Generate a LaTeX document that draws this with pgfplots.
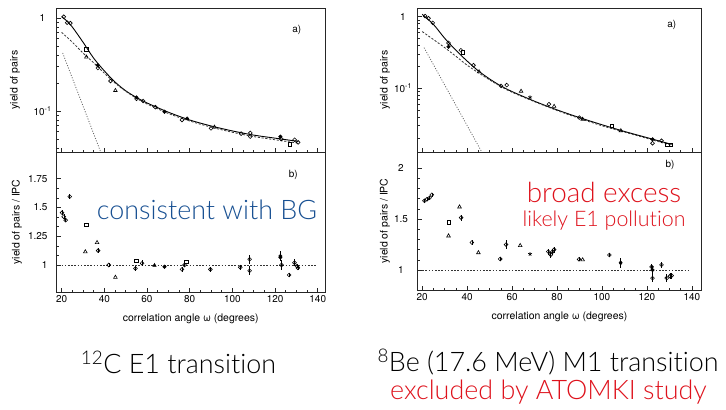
\documentclass[border=0pt]{standalone}
\usepackage{fontspec}
\setmainfont{TeX Gyre Heros}
\newfontfamily\thinfont{Lato}[UprightFont={* Light}, Ligatures={NoCommon, NoContextual}]
\usepackage{pgfplots}
\pgfplotsset{compat=1.18}

\definecolor{bgblue}{RGB}{24,80,146}
\definecolor{exred}{RGB}{222,18,28}

\pgfplotsset{
  scan/.style={
    scale only axis, anchor=north west,
    axis line style={black!85, line width=0.8bp},
    tick style={black!85, line width=0.6bp},
    tick align=inside, xtick pos=bottom, ytick pos=left,
    major tick length=4bp, minor tick length=2bp,
    xtick={20,40,...,140}, minor x tick num=3,
    tick label style={font=\fontsize{10}{10}\selectfont},
    label style={font=\fontsize{10.5}{10.5}\selectfont},
    /pgf/number format/assume math mode=true,
  },
  circ/.style={only marks, mark=o, mark size=1.9bp, mark options={black, line width=0.6bp}},
  sq/.style={only marks, mark=square, mark size=1.7bp, mark options={black, line width=0.6bp}},
  tri/.style={only marks, mark=triangle, mark size=2.1bp, mark options={black, line width=0.6bp}},
  full/.style={only marks, mark=*, mark size=1.8bp, mark options={black}},
  ebar/.style={error bars/.cd, y dir=both, y explicit, error bar style={black, line width=0.5bp}, error mark=none},
  tot/.style={black, line width=0.9bp, smooth},
  comp/.style={black!80, line width=0.8bp, dash pattern=on 2.2bp off 1.6bp, smooth},
  fast/.style={black!60, line width=0.8bp, dash pattern=on 1bp off 1.6bp},
}

\begin{document}
\begin{tikzpicture}
\useasboundingbox (0,0) rectangle (726bp,-410bp);

% ---- 12C, panel a
\begin{axis}[scan, at={(56.5bp,-8bp)}, width=268.5bp, height=144bp,
  xmin=17.6, xmax=143.4, ymode=log, ymin=0.0362, ymax=1.28,
  xticklabels={},
  ytick={0.1,1}, yticklabels={10\textsuperscript{-1},1},
  minor ytick={0.04,0.05,0.06,0.07,0.08,0.09,0.2,0.3,0.4,0.5,0.6,0.7,0.8,0.9},
  yticklabel style={anchor=center, xshift=-14bp},
  ylabel={yield of pairs},
  ylabel style={at={(axis description cs:-0.155,0.5)}, anchor=center}]
\addplot[tot] coordinates {(20,1.03) (22,0.95) (25,0.80) (30,0.55) (35,0.37) (40,0.27) (45,0.205) (50,0.165) (55,0.14) (60,0.122) (70,0.097) (80,0.080) (90,0.069) (100,0.061) (110,0.055) (120,0.051) (131,0.047)};
\addplot[comp] coordinates {(20,0.70) (25,0.55) (30,0.42) (35,0.33) (40,0.255) (45,0.20) (50,0.163) (55,0.137) (60,0.119) (70,0.094) (80,0.078) (90,0.067) (100,0.059) (110,0.053) (120,0.049) (131,0.045)};
\addplot[fast] coordinates {(20.5,0.42) (38.3,0.0362)};
\addplot[circ] coordinates {(21.0,1.03) (22.6,0.89) (24.1,0.88) (37,0.29) (42.9,0.21) (55.1,0.135) (58.2,0.128) (63.9,0.11) (76.4,0.080) (90,0.065) (104.1,0.057) (108.4,0.058) (108.4,0.053) (122.9,0.050) (129.2,0.049) (130.8,0.046)};
\addplot[sq] coordinates {(31.6,0.46) (126.8,0.044)};
\addplot[tri] coordinates {(31.6,0.38) (45.2,0.166) (91.6,0.067)};
\addplot[full] coordinates {(36.9,0.31) (55.1,0.14) (68.2,0.098) (78.8,0.083) (122.5,0.053)};
\node[font=\fontsize{10}{10}\selectfont] at (axis description cs:0.895,0.847) {a)};
\end{axis}

% ---- 12C, panel b
\begin{axis}[scan, at={(56.5bp,-152bp)}, width=268.5bp, height=140bp,
  xmin=17.6, xmax=143.4, ymin=0.765, ymax=1.983,
  ytick={1,1.25,1.5,1.75}, yticklabels={1,1.25,1.5,1.75}, minor y tick num=2,
  yticklabel style={xshift=-5.5bp},
  ylabel={yield of pairs / IPC},
  ylabel style={at={(axis description cs:-0.148,0.5)}, anchor=center},
  xlabel={correlation angle ω (degrees)},
  xlabel style={yshift=-4bp}]
\addplot[black!80, line width=0.8bp, dash pattern=on 1.6bp off 1.6bp] coordinates {(20,1) (139,1)};
\addplot[circ, ebar] coordinates {(20.2,1.455) +- (0,0.02) (21,1.42) +- (0,0.02) (21.9,1.39) +- (0,0.02) (23.8,1.595) +- (0,0.02) (37.1,1.125) +- (0,0.02) (42.1,1.0) +- (0,0.02) (54.6,0.97) +- (0,0.02) (57.7,1.015) +- (0,0.025) (76.4,0.962) +- (0,0.02) (77.6,1.0) +- (0,0.02) (89.7,0.962) +- (0,0.02) (103.7,0.98) +- (0,0.02) (108.1,1.05) +- (0,0.04) (108.1,0.95) +- (0,0.04) (123,1.0) +- (0,0.04) (126.6,0.913) +- (0,0.02) (129.1,1.02) +- (0,0.03) (130.3,0.99) +- (0,0.02) (130.7,0.975) +- (0,0.02)};
\addplot[sq] coordinates {(31.5,1.35) (54.9,1.035) (78.5,1.03)};
\addplot[tri] coordinates {(31.1,1.115) (36.6,1.195) (45.2,0.893)};
\addplot[only marks, mark=triangle*, mark size=2bp, mark options={black}] coordinates {(63.5,0.997)};
\addplot[full, ebar] coordinates {(68.2,0.985) +- (0,0.01) (122.5,1.078) +- (0,0.04) (122.5,1.065) +- (0,0.03)};
\node[font=\fontsize{10}{10}\selectfont] at (axis description cs:0.882,0.836) {b)};
\end{axis}

% ---- 8Be, panel a
\begin{axis}[scan, at={(417.5bp,-8bp)}, width=284bp, height=144bp,
  xmin=17.9, xmax=144.3, ymode=log, ymin=0.0129, ymax=1.323,
  xticklabels={},
  ytick={0.1,1}, yticklabels={10\textsuperscript{-1},1},
  minor ytick={0.02,0.03,0.04,0.05,0.06,0.07,0.08,0.09,0.2,0.3,0.4,0.5,0.6,0.7,0.8,0.9},
  yticklabel style={anchor=center, xshift=-14.5bp},
  ylabel={yield of pairs},
  ylabel style={at={(axis description cs:-0.115,0.5)}, anchor=center}]
\addplot[tot] coordinates {(20,1.08) (25,0.78) (30,0.50) (35,0.34) (40,0.24) (45,0.175) (50,0.135) (55,0.108) (60,0.090) (70,0.066) (80,0.050) (90,0.039) (100,0.031) (110,0.025) (120,0.0205) (131,0.0165)};
\addplot[comp] coordinates {(20,0.62) (25,0.48) (30,0.37) (35,0.28) (40,0.21) (45,0.165) (50,0.131) (55,0.106) (60,0.088) (70,0.065) (80,0.049) (90,0.038) (100,0.030) (110,0.0245) (120,0.020) (131,0.016)};
\addplot[fast] coordinates {(20.8,0.37) (46.5,0.0129)};
\addplot[circ] coordinates {(21.3,1.02) (22.8,0.95) (24.7,0.82) (31.7,0.43) (37.2,0.34) (42.8,0.21) (55.1,0.108) (57.6,0.111) (76.4,0.060) (89.9,0.039) (122.5,0.0171) (126.5,0.0185)};
\addplot[sq] coordinates {(38.1,0.32) (104.3,0.0297) (129,0.0162) (130.5,0.0162)};
\addplot[tri] coordinates {(45.3,0.17) (64,0.091) (78.7,0.056) (91.4,0.037) (108.4,0.0256)};
\addplot[full] coordinates {(31.7,0.38) (122.5,0.0194)};
\addplot[only marks, mark=star, mark size=2bp, mark options={black, line width=0.7bp}] coordinates {(68,0.075)};
\node[font=\fontsize{10}{10}\selectfont] at (axis description cs:0.895,0.882) {a)};
\end{axis}

% ---- 8Be, panel b
\begin{axis}[scan, at={(417.5bp,-152bp)}, width=284bp, height=138bp,
  xmin=17.9, xmax=144.3, ymin=0.803, ymax=2.16,
  ytick={1,1.5,2}, yticklabels={1,1.5,2}, minor y tick num=4,
  yticklabel style={anchor=center, xshift=-16.5bp},
  ylabel={yield of pairs / IPC},
  ylabel style={at={(axis description cs:-0.115,0.5)}, anchor=center},
  xlabel={correlation angle ω (degrees)},
  xlabel style={yshift=-4bp}]
\addplot[black!80, line width=0.8bp, dash pattern=on 1.6bp off 1.6bp] coordinates {(20,1) (139,1)};
\addplot[circ, ebar] coordinates {(21,1.68) +- (0,0.02) (22.1,1.695) +- (0,0.02) (23.3,1.71) +- (0,0.02) (24.3,1.74) +- (0,0.02) (37.3,1.515) +- (0,0.03) (42.1,1.27) +- (0,0.02) (54.7,1.108) +- (0,0.02) (57.3,1.25) +- (0,0.04) (76.1,1.18) +- (0,0.03) (77.2,1.15) +- (0,0.03) (78,1.18) +- (0,0.03) (78.7,1.20) +- (0,0.03) (89.8,1.105) +- (0,0.02) (103.3,1.147) +- (0,0.02) (122.1,1.03) +- (0,0.03) (122.5,0.92) +- (0,0.04) (126.5,1.05) +- (0,0.03) (128.8,0.92) +- (0,0.04) (130.2,0.94) +- (0,0.03) (131,0.945) +- (0,0.03)};
\addplot[sq] coordinates {(31.7,1.47)};
\addplot[tri] coordinates {(31.7,1.335) (36.6,1.62) (45,1.17) (63.6,1.24) (91.4,1.10)};
\addplot[only marks, mark=star, mark size=2bp, mark options={black, line width=0.7bp}] coordinates {(68,1.157)};
\addplot[only marks, mark=diamond*, mark size=2.2bp, mark options={black}, ebar] coordinates {(108.3,1.07) +- (0,0.05)};
\addplot[full, ebar] coordinates {(122.5,1.0) +- (0,0.04)};
\node[font=\fontsize{10}{10}\selectfont] at (axis description cs:0.889,0.906) {b)};
\end{axis}

% ---- panel frames, drawn over the axes
\draw[black!85, line width=1bp] (56.5bp,-8bp) rectangle (325bp,-292bp);
\draw[black!85, line width=1bp] (56.5bp,-152bp) -- (325bp,-152bp);
\draw[black!85, line width=1bp] (417.5bp,-8bp) rectangle (701.5bp,-290bp);
\draw[black!85, line width=1bp] (417.5bp,-152bp) -- (701.5bp,-152bp);

% ---- annotations
\node[bgblue, font=\thinfont\fontsize{27}{27}\selectfont] at (207bp,-210bp) {consistent with BG};
\node[exred, font=\thinfont\fontsize{28}{28}\selectfont] at (604bp,-192bp) {broad excess};
\node[exred, font=\thinfont\fontsize{21.5}{21.5}\selectfont] at (604bp,-221bp) {likely E1 pollution};
\node[font=\thinfont\fontsize{27}{27}\selectfont] at (178.5bp,-362bp) {\textsuperscript{12}C E1 transition};
\node[font=\thinfont\fontsize{27}{27}\selectfont] at (548bp,-362bp) {\textsuperscript{8}Be (17.6 MeV) M1 transition};
\node[exred, font=\thinfont\fontsize{27}{27}\selectfont] at (548.5bp,-392bp) {excluded by ATOMKI study};
\end{tikzpicture}
\end{document}
